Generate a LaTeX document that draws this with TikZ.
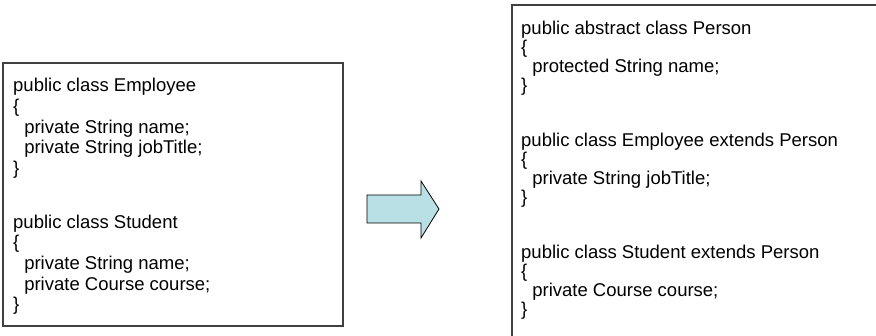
\documentclass[tikz,border=0pt]{standalone}
\usepackage{fontspec}
\setmainfont{Liberation Sans}
\definecolor{arrowfill}{RGB}{185,224,228}
\tikzset{
  codebox/.style={draw=black!75, line width=1.3pt},
  codetext/.style={anchor=north west, inner sep=0pt, align=left},
}
\newcommand{\ind}{\hspace*{0.6em}}

\begin{document}
\begin{tikzpicture}[x=1pt,y=-1pt]
	\useasboundingbox (0,0) rectangle (876,336);
	\clip (0,0) rectangle (876,336);

	% before: two classes
	\draw[codebox] (3,63) rectangle (343,326);
	\node[codetext, font=\fontsize{18.5}{20.7}\selectfont] (before) at (13,78) {public class Employee\\
		\{\\
		\ind private String name;\\
		\ind private String jobTitle;\\
		\}\\[33pt]
		public class Student\\
		\{\\
		\ind private String name;\\
		\ind private Course course;\\
		\}};

	% arrow
	\draw[fill=arrowfill, line width=.8pt] (367,195) -- (421,195) -- (421,181) -- (439,209)
		-- (421,238) -- (421,223) -- (367,223) -- cycle;

	% after: common superclass
	\draw[codebox] (512,5) rectangle (890,350);
	\node[codetext, font=\fontsize{18.5}{19}\selectfont] (after) at (521,21) {public abstract class Person\\
		\{\\
		\ind protected String name;\\
		\}\\[36pt]
		public class Employee extends Person\\
		\{\\
		\ind private String jobTitle;\\
		\}\\[36pt]
		public class Student extends Person\\
		\{\\
		\ind private Course course;\\
		\}};
\end{tikzpicture}
\end{document}
